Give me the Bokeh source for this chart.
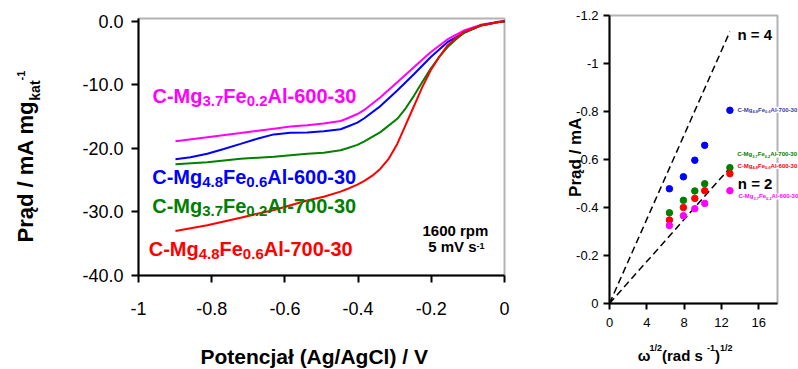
import math
from bokeh.plotting import figure
from bokeh.layouts import row
from bokeh.models import Range1d, FixedTicker, CustomJSTickFormatter, PrintfTickFormatter, Label, BoxAnnotation
from bokeh.embed import file_html
from bokeh.resources import INLINE

# ---------------- data: left panel (LSV curves, 1600 rpm) ----------------
mag_x = [-0.899, -0.812, -0.721, -0.630, -0.585, -0.539, -0.494, -0.448, -0.430, -0.402, -0.384, -0.339,
         -0.293, -0.247, -0.202, -0.156, -0.111, -0.065, -0.019, 0.0]
mag_y = [-18.87, -18.24, -17.6, -16.9, -16.56, -16.35, -16.1, -15.7, -15.3, -14.6, -14.0, -11.95,
         -9.6, -7.2, -4.87, -2.87, -1.46, -0.57, -0.1, 0.0]

blue_x = [-0.899, -0.858, -0.812, -0.767, -0.721, -0.676, -0.630, -0.585, -0.539, -0.494, -0.448, -0.430,
          -0.402, -0.384, -0.339, -0.293, -0.247, -0.202, -0.156, -0.111, -0.065, -0.019, 0.0]
blue_y = [-21.7, -21.4, -20.85, -20.1, -19.3, -18.5, -17.8, -17.56, -17.5, -17.3, -17.0, -16.6,
          -15.95, -15.3, -13.35, -10.9, -8.3, -5.66, -3.3, -1.83, -0.67, -0.15, 0.0]

green_x = [-0.899, -0.812, -0.721, -0.630, -0.539, -0.494, -0.448, -0.430, -0.402, -0.384, -0.339, -0.293,
           -0.270, -0.247, -0.225, -0.202, -0.179, -0.156, -0.133, -0.111, -0.065, -0.019, 0.0]
green_y = [-22.5, -22.2, -21.65, -21.3, -20.85, -20.7, -20.3, -19.97, -19.45, -18.95, -17.45, -15.35,
           -13.7, -11.7, -9.6, -7.5, -5.66, -4.1, -2.87, -1.83, -0.67, -0.15, 0.0]

red_x = [-0.899, -0.812, -0.721, -0.630, -0.539, -0.494, -0.448, -0.430, -0.402, -0.384, -0.361, -0.339,
         -0.316, -0.293, -0.270, -0.247, -0.225, -0.202, -0.179, -0.156, -0.133, -0.111, -0.065, -0.019, 0.0]
red_y = [-33.0, -32.1, -30.9, -29.7, -28.2, -27.6, -26.8, -26.4, -25.7, -25.15, -24.3, -23.2,
         -21.6, -19.3, -16.3, -13.3, -10.4, -7.75, -5.66, -3.82, -2.67, -1.72, -0.67, -0.15, 0.0]

left_xticks = [-1.0, -0.8, -0.6, -0.4, -0.2, 0.0]
left_yticks = [0.0, -10.0, -20.0, -30.0, -40.0]

# ---------------- data: right panel ----------------
omega_sqrt = [6.42, 7.92, 9.14, 10.2, 12.9]
pts_blue = [-0.478, -0.528, -0.597, -0.659, -0.805]
pts_green = [-0.378, -0.430, -0.469, -0.499, -0.566]
pts_red = [-0.348, -0.400, -0.438, -0.470, -0.541]
pts_mag = [-0.325, -0.366, -0.395, -0.417, -0.470]

n4_x = [0.0, 12.9]
n4_y = [0.0, -1.133]
n2_x = [0.0, 12.9]
n2_y = [0.0, -0.565]

right_xticks = [0, 4, 8, 12, 16]
right_yticks = [0.0, -0.2, -0.4, -0.6, -0.8, -1.0, -1.2]

MAG = "#ff00ff"
BLUE = "#0000ff"
GREEN = "#008000"
RED = "#ff0000"
SLATE = "#3c3ca8"
FONT = "Liberation Sans"
BASE_K = 0.35  # baseline correction (fraction of font size) for Bokeh's label anchoring

# Arial / Liberation Sans Bold advance widths (1/1000 em)
BW = {' ': 278, '-': 333, '.': 278, '/': 278, '=': 584, '(': 333, ')': 333,
      'A': 722, 'C': 722, 'F': 611, 'M': 833, 'P': 667, 'V': 667,
      'a': 556, 'd': 611, 'e': 556, 'g': 611, 'k': 556, 'l': 278, 'm': 889,
      'n': 611, 'p': 611, 'r': 389, 's': 556, 't': 333, 'ą': 556, 'j': 278,
      'ł': 278, 'c': 556, 'o': 611, 'ω': 780}
for d in "0123456789":
    BW[d] = 556


def tw(s, size):
    return sum(BW.get(c, 556) for c in s) / 1000.0 * size


def compose(fig, x, y, parts, color, align="left", angle=0.0, bg=None):
    """parts: list of (text, size, shift); shift > 0 raises the baseline (px)."""
    total = sum(tw(t, s) for t, s, _ in parts)
    pos = -total / 2.0 if align == "center" else 0.0
    for t, s, sh in parts:
        up = sh + BASE_K * s
        if angle == 0.0:
            xo, yo = pos, up
        else:  # rotated 90 deg CCW: text advances upward, its "up" is screen-left
            xo, yo = -up, pos
        lab = Label(x=x, y=y, x_units="data", y_units="data", text=t,
                    x_offset=xo, y_offset=yo, angle=angle,
                    text_font=FONT, text_font_size=f"{s}px", text_font_style="bold",
                    text_color=color, text_align="left", text_baseline="alphabetic")
        if bg is not None:
            lab.background_fill_color = bg
        fig.add_layout(lab)
        pos += tw(t, s)


def style_axes(p, tick_size, out, standoff_x, standoff_y):
    for ax in (p.xaxis[0], p.yaxis[0]):
        ax.axis_line_width = 2
        ax.axis_line_color = "black"
        ax.major_tick_line_width = 2
        ax.major_tick_line_color = "black"
        ax.major_tick_in = 0
        ax.major_tick_out = out
        ax.minor_tick_line_color = None
        ax.major_label_text_font = FONT
        ax.major_label_text_font_size = tick_size
        ax.major_label_text_color = "black"
    p.xaxis[0].major_label_standoff = standoff_x
    p.yaxis[0].major_label_standoff = standoff_y
    p.xgrid.grid_line_color = None
    p.ygrid.grid_line_color = None
    p.outline_line_color = None


def full_frame_figure(w, h, box, xlim, ylim):
    """Figure whose frame fills the canvas; 'box' = (left, top, width, height) pixels of the plot box."""
    bl, bt, bw, bh = box
    x0, x1 = xlim
    y0, y1 = ylim  # y0 at bottom of box, y1 at top of box
    sx = bw / (x1 - x0)
    sy = bh / (y1 - y0)
    xr = Range1d(x0 - bl / sx, x1 + (w - bl - bw) / sx)
    yr = Range1d(y0 - (h - bt - bh) / sy, y1 + bt / sy)
    p = figure(width=w, height=h, output_backend="svg", toolbar_location=None,
               x_range=xr, y_range=yr, min_border=0,
               min_border_left=0, min_border_right=0, min_border_top=0, min_border_bottom=0)
    p.background_fill_color = "white"
    p.border_fill_color = "white"

    def to_data(px, py):
        return (x0 + (px - bl) / sx, y1 - (py - bt) / sy)
    return p, to_data


fmt = CustomJSTickFormatter(code="return Number(tick.toFixed(2)).toString();")
H = 369

# ================= left figure =================
W1 = 560
LX = (-1.0, 0.0)
LY = (-40.0, 0.43)
p1, L = full_frame_figure(W1, H, (138, 18, 366, 257), LX, LY)
p1.xaxis.ticker = FixedTicker(ticks=left_xticks)
p1.yaxis.ticker = FixedTicker(ticks=left_yticks)
p1.xaxis.formatter = fmt
p1.yaxis.formatter = PrintfTickFormatter(format="%.1f")
p1.xaxis.fixed_location = LY[0]
p1.yaxis.fixed_location = LX[0]
p1.xaxis.bounds = LX
p1.yaxis.bounds = LY
style_axes(p1, "18px", 7, 19, 8)
p1.add_layout(BoxAnnotation(left=LX[0], right=LX[1], bottom=LY[0], top=LY[1],
                            fill_alpha=0, line_color="black", line_width=2))

for xs, ys, c in ((mag_x, mag_y, MAG), (blue_x, blue_y, BLUE),
                  (green_x, green_y, GREEN), (red_x, red_y, RED)):
    p1.line(xs, ys, line_color=c, line_width=2)


def legend_parts(a, b, c, size=20, sub=15, drop=-3.5):
    return [("C-Mg", size, 0), (a, sub, drop), ("Fe", size, 0), (b, sub, drop), ("Al-" + c, size, 0)]


compose(p1, *L(152, 102.7), legend_parts("3.7", "0.2", "600-30"), MAG)
compose(p1, *L(151.7, 183.3), legend_parts("4.8", "0.6", "600-30"), BLUE)
compose(p1, *L(151.7, 212), legend_parts("3.7", "0.2", "700-30"), GREEN)
compose(p1, *L(148.2, 255), legend_parts("4.8", "0.6", "700-30"), RED)
compose(p1, *L(422, 235.7), [("1600 rpm", 15, 0)], "black")
compose(p1, *L(427.7, 251.7), [("5 mV s", 15, 0), ("-1", 9, 3.5)], "black")
# axis titles
compose(p1, *L(313.7, 363), [("Potencjał (Ag/AgCl) / V", 21, 0)], "black", align="center")
compose(p1, *L(33, 242), [("Prąd / mA mg", 22, 0), ("kat", 14, -6.5), ("-1", 11, 8.5)], "black",
        angle=math.pi / 2)

# ================= right figure =================
W2 = 238
OFF = W1
RX = (0.0, 18.0)
RY = (0.0, -1.2)  # bottom value, top value (reversed axis)
p2, Rloc = full_frame_figure(W2, H, (609 - OFF, 15, 168, 288), RX, RY)
p2.xaxis.ticker = FixedTicker(ticks=right_xticks)
p2.yaxis.ticker = FixedTicker(ticks=right_yticks)
p2.xaxis.formatter = fmt
p2.yaxis.formatter = fmt
p2.xaxis.fixed_location = RY[0]
p2.yaxis.fixed_location = RX[0]
p2.xaxis.bounds = RX
p2.yaxis.bounds = (RY[1], RY[0])
style_axes(p2, "13px", 6, 8, 5)
p2.add_layout(BoxAnnotation(left=RX[0], right=RX[1], bottom=RY[1], top=RY[0],
                            fill_alpha=0, line_color="black", line_width=2))

p2.line(n4_x, n4_y, line_color="black", line_width=1.5, line_dash="7 4")
p2.line(n2_x, n2_y, line_color="black", line_width=1.5, line_dash="7 4")
for ys, c in ((pts_blue, BLUE), (pts_green, GREEN), (pts_red, RED), (pts_mag, MAG)):
    p2.scatter(omega_sqrt, ys, size=6.5, fill_color=c, line_color=c, marker="circle")


def R(px, py):
    return Rloc(px - OFF, py)


compose(p2, *R(737, 39), [("n = 4", 15, 0)], "black")
compose(p2, *R(737.3, 188.3), [("n = 2", 15, 0)], "black", bg="white")


def small_parts(a, b, c):
    return [("C-Mg", 6, 0), (a, 4, -1), ("Fe", 6, 0), (b, 4, -1), ("Al-" + c, 6, 0)]


compose(p2, *R(737, 111.3), small_parts("4.8", "0.6", "700-30"), SLATE, bg="white")
compose(p2, *R(736.7, 156), small_parts("3.7", "0.2", "700-30"), GREEN, bg="white")
compose(p2, *R(737, 167.7), small_parts("4.8", "0.6", "600-30"), RED, bg="white")
compose(p2, *R(738, 198), small_parts("3.7", "0.2", "600-30"), MAG, bg="white")
# axis titles
compose(p2, *R(581, 156.7), [("Prąd / mA", 17, 0)], "black", align="center", angle=math.pi / 2)
compose(p2, *R(637.3, 360), [("ω", 15, 0), ("1/2", 9, 9), (" (rad s", 15, 0), ("-1", 9, 9),
                             (")", 15, 0), ("1/2", 9, 9)], "black")

layout = row(p1, p2)
open("out.html", "w").write(file_html(layout, INLINE))
